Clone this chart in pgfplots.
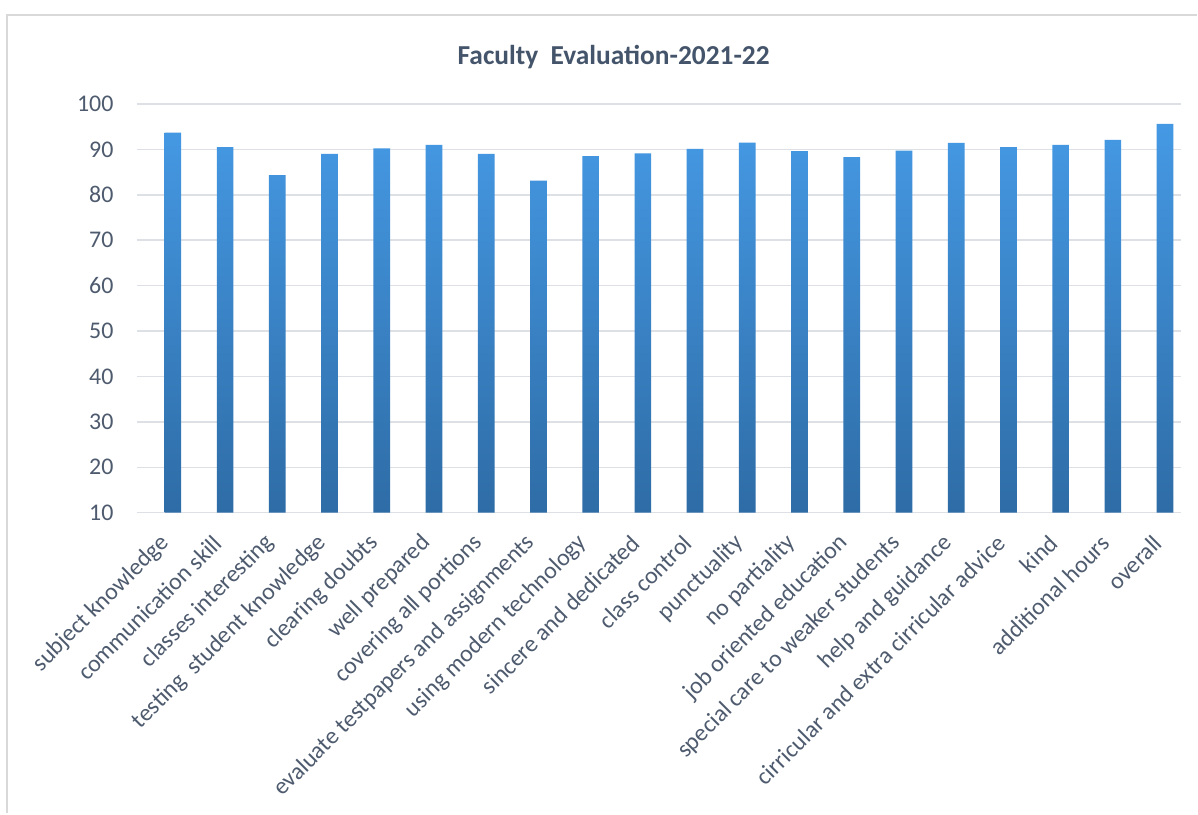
\documentclass[border=0pt]{standalone}
\usepackage{fontspec}
\setmainfont{Carlito}
\usepackage{pgfplots}
\pgfplotsset{compat=1.18}
\definecolor{txt}{HTML}{4E5B6E}
\definecolor{ttl}{HTML}{44546A}
\definecolor{grd}{HTML}{DDE1E6}
\definecolor{frm}{HTML}{D9D9D9}
\definecolor{bartop}{RGB}{69,153,228}
\definecolor{barbot}{RGB}{46,108,166}
\begin{document}
\begin{tikzpicture}
\fill[white] (0bp,0bp) rectangle (1198bp,814bp);
\draw[frm, line width=1.5bp] (7bp,0bp) -- (7bp,799bp) -- (1198bp,799bp);
\node[font=\bfseries\fontsize{27.5}{32}\selectfont, text=ttl] at (614bp,757bp) {Faculty~ Evaluation-2021-22};
\begin{axis}[
  at={(137bp,301bp)}, anchor=south west,
  scale only axis, width=1045bp, height=409bp,
  ymin=10, ymax=100, ytick={10,20,...,100},
  xmin=-0.689, xmax=19.31,
  xtick={0,...,19},
  xticklabels={subject knowledge, communication skill, classes interesting, testing~ student knowledge, clearing doubts, well prepared, covering all portions, evaluate testpapers and assignments, using modern technology, sincere and dedicated, class control, punctuality, no partiality, job oriented education, special care to weaker students, help and guidance, cirricular and extra cirricular advice, kind, additional hours, overall},
  axis line style={draw=none},
  tick style={draw=none},
  ymajorgrids, grid style={grd, line width=1.5bp},
  /pgf/number format/assume math mode=true,
  yticklabel style={font=\fontsize{24}{28}\selectfont, text=txt, anchor=east, xshift=-20bp},
  xticklabel style={font=\fontsize{24}{28}\selectfont, text=txt, xshift=-5bp, yshift=-20bp, rotate=45, anchor=east},
  ybar, bar width=16.7bp,
]
\addplot[ybar, draw=none, top color=bartop, bottom color=barbot] coordinates {
(0,93.7) (1,90.5) (2,84.3) (3,89.0) (4,90.2) (5,91.0) (6,89.0) (7,83.1) (8,88.5) (9,89.1)
(10,90.1) (11,91.5) (12,89.6) (13,88.3) (14,89.7) (15,91.4) (16,90.5) (17,91.0) (18,92.1) (19,95.6)
};
\end{axis}
\end{tikzpicture}
\end{document}
